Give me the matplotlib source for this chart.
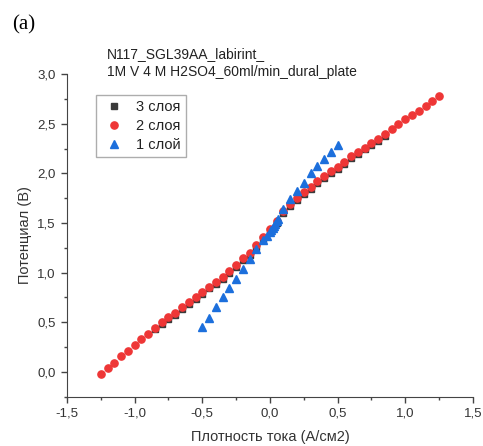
import numpy as np
import matplotlib.pyplot as plt
from matplotlib.ticker import MultipleLocator, FuncFormatter

plt.rcParams['font.family'] = ['Liberation Sans', 'DejaVu Sans']

# 2 layers (red circles)
x_red = [-1.25, -1.20, -1.15, -1.10, -1.05, -1.00, -0.95, -0.90, -0.85, -0.80,
         -0.75, -0.70, -0.65, -0.60, -0.55, -0.50, -0.45, -0.40, -0.35, -0.30,
         -0.25, -0.20, -0.15, -0.10, -0.05, 0.00, 0.05, 0.10, 0.15, 0.20,
         0.25, 0.30, 0.35, 0.40, 0.45, 0.50, 0.55, 0.60, 0.65, 0.70,
         0.75, 0.80, 0.85, 0.90, 0.95, 1.00, 1.05, 1.10, 1.15, 1.20, 1.25]
v_red = [-0.02, 0.04, 0.09, 0.16, 0.21, 0.27, 0.33, 0.38, 0.44, 0.50,
         0.55, 0.59, 0.65, 0.70, 0.75, 0.80, 0.86, 0.91, 0.96, 1.02,
         1.08, 1.15, 1.20, 1.28, 1.36, 1.44, 1.52, 1.62, 1.69, 1.75,
         1.81, 1.86, 1.92, 1.97, 2.02, 2.06, 2.11, 2.17, 2.21, 2.26,
         2.31, 2.35, 2.40, 2.45, 2.50, 2.55, 2.59, 2.63, 2.68, 2.73, 2.78]

# 3 layers (black squares)
x_blk = [-0.85, -0.80, -0.75, -0.70, -0.65, -0.60, -0.55, -0.50, -0.45, -0.40,
         -0.35, -0.30, -0.25, -0.20, -0.15, -0.10, -0.05, 0.00, 0.05, 0.10,
         0.15, 0.20, 0.25, 0.30, 0.35, 0.40, 0.45, 0.50, 0.55, 0.60,
         0.65, 0.70, 0.75, 0.80, 0.85]
v_blk = [0.43, 0.48, 0.53, 0.575, 0.63, 0.68, 0.73, 0.78, 0.84, 0.89,
         0.94, 1.00, 1.06, 1.13, 1.18, 1.26, 1.34, 1.42, 1.50, 1.60,
         1.67, 1.73, 1.79, 1.84, 1.90, 1.95, 2.00, 2.04, 2.09, 2.15,
         2.19, 2.24, 2.29, 2.33, 2.38]

# 1 layer (blue triangles)
x_blu = [-0.50, -0.45, -0.40, -0.35, -0.30, -0.25, -0.20, -0.15, -0.10, -0.05,
         -0.025, 0.00, 0.01, 0.02, 0.03, 0.04, 0.05, 0.06, 0.10, 0.15,
         0.20, 0.25, 0.30, 0.35, 0.40, 0.45, 0.50]
v_blu = [0.45, 0.54, 0.65, 0.75, 0.85, 0.94, 1.04, 1.14, 1.24, 1.33,
         1.37, 1.41, 1.43, 1.45, 1.47, 1.49, 1.52, 1.54, 1.64, 1.74,
         1.82, 1.90, 2.00, 2.07, 2.14, 2.21, 2.29]

fig = plt.figure(figsize=(4.83, 4.46), dpi=100)
ax = fig.add_axes([0.1387, 0.1105, 0.8403, 0.7235])

ax.plot(x_blk, v_blk, linestyle='none', marker='s', ms=4.6, color='#3a3a3a', label='3 слоя')
ax.plot(x_red, v_red, linestyle='none', marker='o', ms=5.2, color='#ee3636', label='2 слоя')
ax.plot(x_blu, v_blu, linestyle='none', marker='^', ms=5.6, color='#1c6fdc', label='1 слой')

ax.set_xlim(-1.5, 1.5)
ax.set_ylim(-0.25, 3.0)
ax.spines['top'].set_visible(False)
ax.spines['right'].set_visible(False)
ax.spines['left'].set_color('#444444')
ax.spines['bottom'].set_color('#444444')

ax.xaxis.set_major_locator(MultipleLocator(0.5))
ax.xaxis.set_minor_locator(MultipleLocator(0.25))
ax.yaxis.set_major_locator(MultipleLocator(0.5))
ax.yaxis.set_minor_locator(MultipleLocator(0.25))
comma = FuncFormatter(lambda v, p: ('%.1f' % v).replace('.', ','))
ax.xaxis.set_major_formatter(comma)
ax.yaxis.set_major_formatter(comma)
ax.tick_params(which='major', direction='out', length=4, width=1, colors='#444444',
               labelcolor='#333333', labelsize=9.5, pad=4)
ax.tick_params(which='minor', direction='out', length=2.5, width=1, colors='#444444')

ax.set_xlabel('Плотность тока (А/см2)', fontsize=10.5, color='#333333', labelpad=7)
ax.set_ylabel('Потенциал (В)', fontsize=10.5, color='#333333', labelpad=4)

fig.text(107 / 483, 1 - 47 / 446, 'N117_SGL39AA_labirint_\n1M V 4 M H2SO4_60ml/min_dural_plate',
         fontsize=10, color='#222222', ha='left', va='top', linespacing=1.35)
fig.text(12 / 483, 1 - 25 / 446, '(a)', fontsize=15, family='Liberation Serif',
         ha='left', va='center')

leg = ax.legend(loc='upper left', bbox_to_anchor=((96 - 67) / 406, (396.7 - 95) / 322.7),
                borderaxespad=0, fontsize=10.5, frameon=True, fancybox=False,
                edgecolor='#999999', handletextpad=0.6, borderpad=0.35,
                labelspacing=0.35, handlelength=1.8, markerscale=1.0)
leg.get_frame().set_linewidth(1.0)
for t in leg.get_texts():
    t.set_color('#222222')

fig.savefig('out.png', dpi=100)
